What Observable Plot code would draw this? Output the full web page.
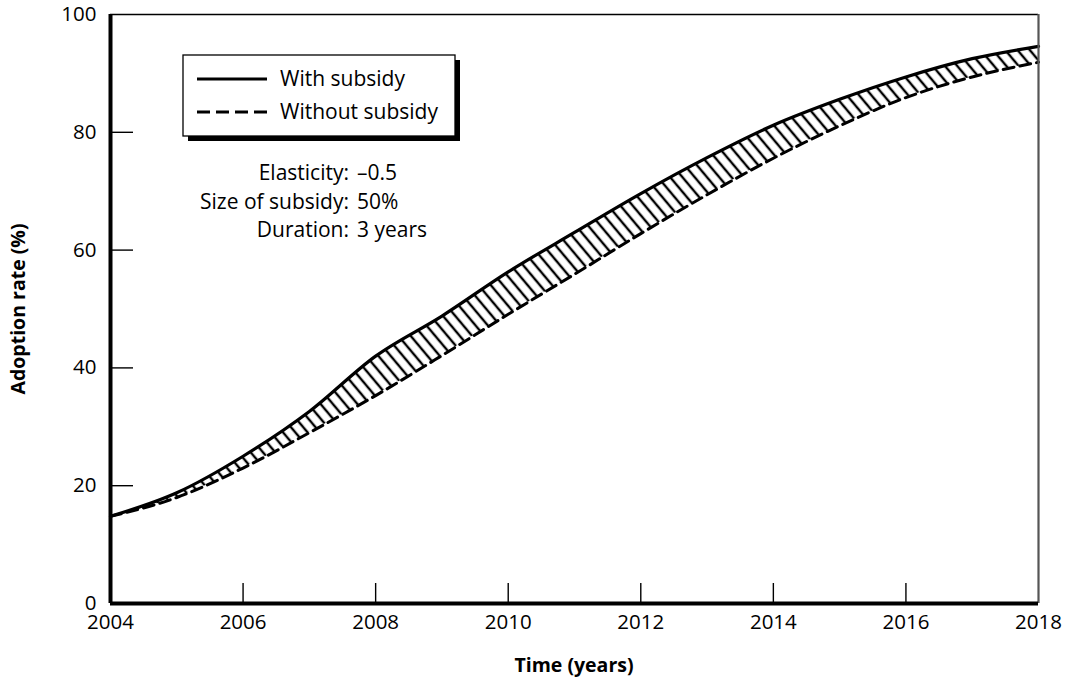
<!DOCTYPE html>
<html><head><meta charset="utf-8">
<script src="https://cdn.jsdelivr.net/npm/d3@7"></script>
<script src="https://cdn.jsdelivr.net/npm/@observablehq/plot@0.6"></script>
<style>body{margin:0;background:#fff;} #chart svg{font-family:"Open Sans",sans-serif;}</style>
</head><body><div id="chart"></div>
<script>
const years = [2004,2005,2006,2007,2008,2009,2010,2011,2012,2013,2014,2015,2016,2017,2018];
const withSubsidy = [14.8,18.8,25.0,32.6,42.0,48.8,56.3,63.0,69.6,75.7,81.2,85.6,89.4,92.5,94.6];
const withoutSubsidy = [14.8,18.0,23.0,29.0,35.3,42.1,49.1,55.9,62.8,69.4,75.6,81.1,85.9,89.4,91.9];
const xTicks = [2004,2006,2008,2010,2012,2014,2016,2018];
const yTicks = [0,20,40,60,80,100];
const legendLabels = ["With subsidy","Without subsidy"];
const noteLabels = ["Elasticity:","Size of subsidy:","Duration:"];
const noteValues = ["\u20130.5","50%","3 years"];
const xTitle = "Time (years)";
const yTitle = "Adoption rate (%)";

const rows = years.map((t,i)=>({t, w: withSubsidy[i], wo: withoutSubsidy[i]}));

const W = 1068, H = 678, mL = 110, mR = 30, mT = 14, mB = 75;
const frameW = W - mL - mR, frameH = H - mT - mB;

const plot = Plot.plot({
  width: W, height: H, marginLeft: mL, marginRight: mR, marginTop: mT, marginBottom: mB,
  style: {fontFamily: '"Open Sans", sans-serif', fontSize: "20px", color: "#000", background: "#fff"},
  x: {domain: [2004, 2018], label: null},
  y: {domain: [0, 100], label: null},
  marks: [
    Plot.areaY(rows, {x: "t", y1: "wo", y2: "w", fill: "url(#hatch)", curve: "monotone-x"}),
    Plot.line(rows, {x: "t", y: "wo", stroke: "#000", strokeWidth: 3, strokeDasharray: "11,6", curve: "monotone-x"}),
    Plot.line(rows, {x: "t", y: "w", stroke: "#000", strokeWidth: 3.2, curve: "monotone-x"}),
    Plot.tickX(xTicks.slice(1, -1), {x: d => d, stroke: "#000", strokeWidth: 1.4, insetTop: frameH - 20}),
    Plot.tickY(yTicks.slice(1, -1), {y: d => d, stroke: "#000", strokeWidth: 1.4, insetRight: frameW - 23}),
    Plot.axisX(xTicks, {tickSize: 0, tickPadding: 11, tickFormat: d => String(d), fontSize: 20.5, label: null}),
    Plot.axisY(yTicks, {tickSize: 0, tickPadding: 14, tickFormat: d => String(d), fontSize: 20.5, label: null}),
    Plot.ruleY([100], {stroke: "#000", strokeWidth: 1.3}),
    Plot.ruleX([2018], {stroke: "#555", strokeWidth: 2.2}),
    Plot.ruleX([2004], {stroke: "#000", strokeWidth: 4}),
    Plot.ruleY([0], {stroke: "#000", strokeWidth: 4})
  ]
});
document.getElementById("chart").appendChild(plot);

const svg = d3.select(plot);
const defs = svg.insert("defs", ":first-child");
const pat = defs.append("pattern").attr("id", "hatch").attr("patternUnits", "userSpaceOnUse")
  .attr("width", 9.4).attr("height", 30).attr("patternTransform", "rotate(-40)");
pat.append("line").attr("x1", 4.7).attr("x2", 4.7).attr("y1", -2).attr("y2", 32)
  .attr("stroke", "#000").attr("stroke-width", 2.4);

// Legend box with drop shadow
const lg = svg.append("g").attr("text-anchor", "start");
lg.append("rect").attr("x", 188).attr("y", 60).attr("width", 272).attr("height", 81).attr("fill", "#000");
lg.append("rect").attr("x", 183).attr("y", 55).attr("width", 272).attr("height", 81)
  .attr("fill", "#fff").attr("stroke", "#000").attr("stroke-width", 1.3);
[0, 1].forEach(i => {
  const y = 79 + i * 33;
  lg.append("line").attr("x1", 197).attr("x2", 267).attr("y1", y).attr("y2", y)
    .attr("stroke", "#000").attr("stroke-width", 3).attr("stroke-dasharray", i ? "13,6" : null);
  lg.append("text").attr("x", 280).attr("y", y).attr("dy", "0.35em").attr("text-anchor", "start")
    .attr("font-size", 21).attr("fill", "#000").text(legendLabels[i]);
});

// Notes
const ng = svg.append("g").attr("font-size", 21).attr("fill", "#000");
noteLabels.forEach((l, i) => {
  const y = 173 + i * 28.5;
  ng.append("text").attr("x", 349).attr("y", y).attr("dy", "0.35em").attr("text-anchor", "end").text(l);
  ng.append("text").attr("x", 357).attr("y", y).attr("dy", "0.35em").attr("text-anchor", "start").text(noteValues[i]);
});

// Axis titles
svg.append("text").attr("x", 574).attr("y", 665).attr("dy", "0.35em").attr("text-anchor", "middle")
  .attr("font-weight", "bold").attr("font-size", 19.5).attr("fill", "#000").text(xTitle);
svg.append("text").attr("transform", "translate(18,309) rotate(-90)").attr("dy", "0.35em")
  .attr("text-anchor", "middle").attr("font-weight", "bold").attr("font-size", 19.5).attr("fill", "#000").text(yTitle);
</script>
</body></html>
